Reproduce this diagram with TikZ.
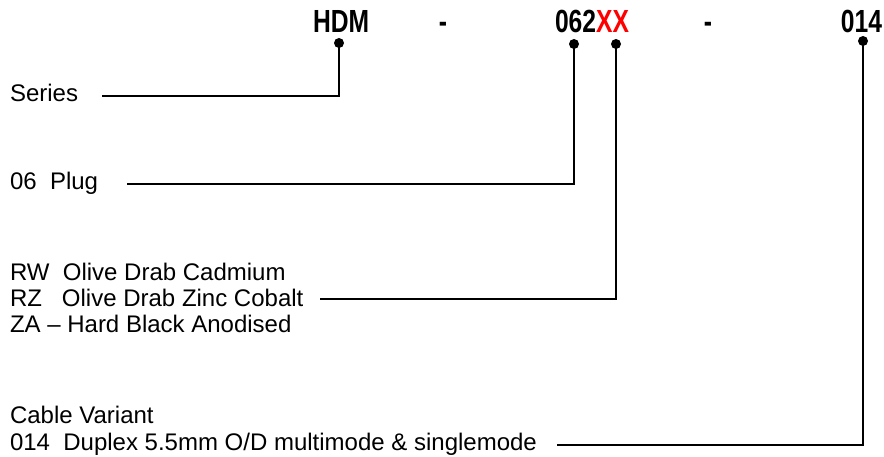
\documentclass[tikz,border=0pt]{standalone}
\usepackage{fontspec}
\setmainfont{Liberation Sans}
\newfontfamily\hdrfont[FakeStretch=0.77]{Liberation Sans}
\definecolor{xxred}{RGB}{255,0,0}
\begin{document}
\begin{tikzpicture}[x=1pt,y=-1pt,
  lbl/.style={inner sep=0pt, outer sep=0pt, font=\fontsize{24}{27}\selectfont, anchor=base west},
  hdr/.style={inner sep=0pt, outer sep=0pt, font=\hdrfont\bfseries\fontsize{32}{36}\selectfont},
  dot/.style={circle, fill=black, inner sep=0pt, minimum size=10pt},
  conn/.style={line width=2pt, line cap=rect}]
\useasboundingbox (0,0) rectangle (884,457);
% header code
\node[hdr, anchor=base west] (hdm) at (313,33) {HDM};
\node[hdr, anchor=base] (dash1) at (443,33) {-};
\node[hdr, anchor=base west] (code) at (555,33) {062\textcolor{xxred}{XX}};
\node[hdr, anchor=base] (dash2) at (708,33) {-};
\node[hdr, anchor=base east] (var) at (882,33) {014};
% dots
\node[dot] (d1) at (339,43) {};
\node[dot] (d2) at (574,44) {};
\node[dot] (d3) at (616,44) {};
\node[dot] (d4) at (863,41) {};
% labels
\node[lbl] (series) at (10,102) {Series};
\node[lbl] (plug) at (10,190) {06\ \ Plug};
\node[lbl] (rw) at (10,280) {RW\ \ Olive Drab Cadmium};
\node[lbl] (rz) at (10,306) {RZ\ \ \ Olive Drab Zinc Cobalt};
\node[lbl] (za) at (10,332) {ZA -- Hard Black Anodised};
\node[lbl] (cable) at (10,423) {Cable Variant};
\node[lbl] (dup) at (10,450) {014\ \ Duplex 5.5mm O/D multimode \& singlemode};
% free ends
\coordinate (e1) at (103,96);
\coordinate (e2) at (128,184);
\coordinate (e3) at (321,299);
\coordinate (e4) at (558,445);
% connectors
\draw[conn] (d1.center) |- (e1);
\draw[conn] (d2.center) |- (e2);
\draw[conn] (d3.center) |- (e3);
\draw[conn] (d4.center) |- (e4);
\end{tikzpicture}
\end{document}
